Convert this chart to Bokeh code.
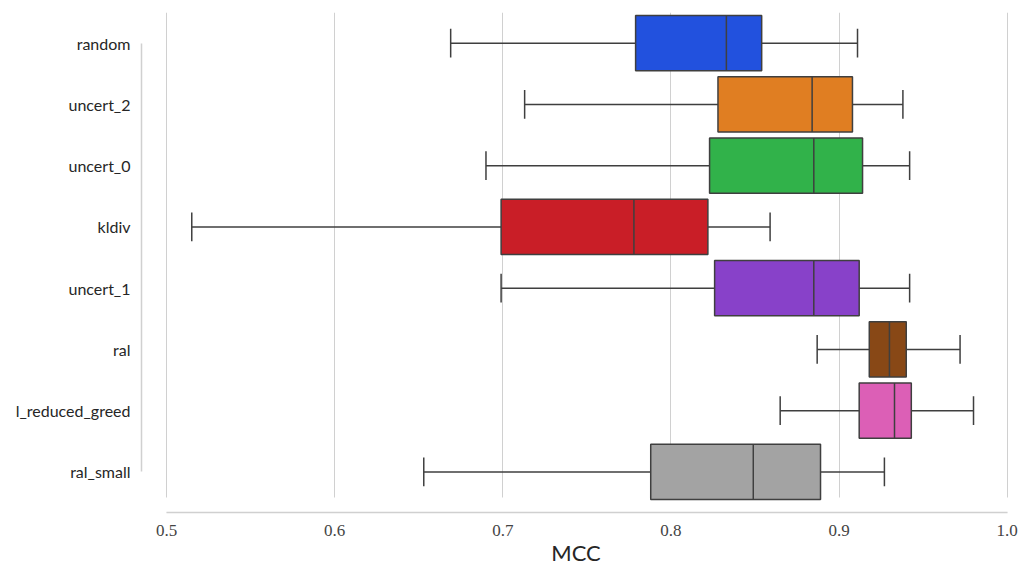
import numpy as np
from bokeh.plotting import figure
from bokeh.models import ColumnDataSource, Range1d, FixedTicker, BoxAnnotation, NumeralTickFormatter
from bokeh.embed import file_html
from bokeh.resources import INLINE

# ---- data ----
methods = ["random", "uncert_2", "uncert_0", "kldiv", "uncert_1", "ral", "l_reduced_greed", "ral_small"]
whisker_low = [0.669, 0.713, 0.690, 0.515, 0.699, 0.887, 0.865, 0.653]
q1 = [0.779, 0.828, 0.823, 0.699, 0.826, 0.918, 0.912, 0.788]
median = [0.833, 0.884, 0.885, 0.778, 0.885, 0.930, 0.933, 0.849]
q3 = [0.854, 0.908, 0.914, 0.822, 0.912, 0.940, 0.943, 0.889]
whisker_high = [0.911, 0.938, 0.942, 0.859, 0.942, 0.972, 0.980, 0.927]
colors = ["#2251de", "#e07e22", "#31b24a", "#c91e27", "#8841c9", "#884816", "#dc5fb6", "#a3a3a3"]
x_ticks = [0.5, 0.6, 0.7, 0.8, 0.9, 1.0]

ypos = np.arange(len(methods), dtype=float)
box_h = 0.9
cap_h = 0.47

src = ColumnDataSource(dict(
    y=ypos, lo=whisker_low, q1=q1, med=median, q3=q3, hi=whisker_high, color=colors,
    yb0=ypos - box_h / 2, yb1=ypos + box_h / 2,
    yc0=ypos - cap_h / 2, yc1=ypos + cap_h / 2,
))

EDGE = "#3f3f3f"
GRID = "#d0d0d0"

p = figure(width=1023, height=568, output_backend="svg", toolbar_location=None,
           x_range=Range1d(0.4851, 1.002), y_range=Range1d(7.663, -0.5),
           min_border_left=141, min_border_right=13, min_border_top=12, min_border_bottom=56)
p.outline_line_color = None
p.background_fill_color = "white"

# whiskers
p.segment(x0="lo", y0="y", x1="q1", y1="y", source=src, line_color=EDGE, line_width=1.5)
p.segment(x0="q3", y0="y", x1="hi", y1="y", source=src, line_color=EDGE, line_width=1.5)
# caps
p.segment(x0="lo", y0="yc0", x1="lo", y1="yc1", source=src, line_color=EDGE, line_width=1.5)
p.segment(x0="hi", y0="yc0", x1="hi", y1="yc1", source=src, line_color=EDGE, line_width=1.5)
# boxes
p.hbar(y="y", left="q1", right="q3", height=box_h, source=src,
       fill_color="color", line_color=EDGE, line_width=1.5)
# medians
p.segment(x0="med", y0="yb0", x1="med", y1="yb1", source=src, line_color=EDGE, line_width=1.5)

# cut grid lines below last category (spine offset look)
p.add_layout(BoxAnnotation(top=7.42, bottom=7.70, fill_color="white", fill_alpha=1.0,
                           line_alpha=0, level="underlay"))

# grids
p.ygrid.grid_line_color = None
p.xgrid.grid_line_color = GRID
p.xgrid.grid_line_width = 1
p.xgrid.ticker = FixedTicker(ticks=x_ticks)

# x axis
xa = p.xaxis[0]
xa.ticker = FixedTicker(ticks=x_ticks)
xa.formatter = NumeralTickFormatter(format="0.0")
xa.bounds = (0.5, 1.0)
xa.axis_line_color = GRID
xa.axis_line_width = 1.5
xa.major_tick_line_color = None
xa.minor_tick_line_color = None
xa.major_tick_out = 0
xa.major_label_standoff = 12
xa.major_label_text_font = "Liberation Serif"
xa.major_label_text_font_size = "17px"
xa.major_label_text_color = "#444444"
xa.axis_label = "MCC"
xa.axis_label_text_font = "Lato"
xa.axis_label_text_font_style = "normal"
xa.axis_label_text_font_size = "22px"
xa.axis_label_text_color = "#262626"
xa.axis_label_standoff = 0

# y axis
ya = p.yaxis[0]
ya.ticker = FixedTicker(ticks=list(range(len(methods))))
ya.major_label_overrides = {i: m for i, m in enumerate(methods)}
ya.bounds = (0, len(methods) - 1)
ya.axis_line_color = GRID
ya.axis_line_width = 1.5
ya.major_tick_line_color = None
ya.minor_tick_line_color = None
ya.major_tick_out = 0
ya.major_label_standoff = 11
ya.major_label_text_font = "Lato"
ya.major_label_text_font_size = "16px"
ya.major_label_text_color = "#262626"

open("out.html", "w").write(file_html(p, INLINE))
